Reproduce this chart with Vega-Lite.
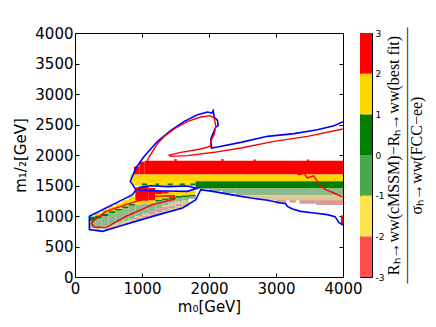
{
  "$schema": "https://vega.github.io/schema/vega-lite/v6.json",
  "padding": {"left": 13, "top": 25, "right": 5, "bottom": 5},
  "background": "white",
  "datasets": {
    "cells": [
      {"x0": 880, "x1": 960, "y0": 1680, "y1": 1810, "c": "r"},
      {"x0": 960, "x1": 1040, "y0": 1680, "y1": 1890, "c": "r"},
      {"x0": 1040, "x1": 4000, "y0": 1680, "y1": 1905, "c": "r"},
      {"x0": 1480, "x1": 1520, "y0": 1905, "y1": 1930, "c": "r"},
      {"x0": 2180, "x1": 2220, "y0": 1905, "y1": 1930, "c": "r"},
      {"x0": 2660, "x1": 2700, "y0": 1905, "y1": 1925, "c": "r"},
      {"x0": 3460, "x1": 3500, "y0": 1905, "y1": 1925, "c": "r"},
      {"x0": 830, "x1": 4000, "y0": 1570, "y1": 1680, "c": "y"},
      {"x0": 840, "x1": 1800, "y0": 1535, "y1": 1570, "c": "y"},
      {"x0": 860, "x1": 1000, "y0": 1500, "y1": 1535, "c": "y"},
      {"x0": 1000, "x1": 1080, "y0": 1500, "y1": 1535, "c": "g"},
      {"x0": 1080, "x1": 1200, "y0": 1500, "y1": 1535, "c": "y"},
      {"x0": 1200, "x1": 1260, "y0": 1500, "y1": 1535, "c": "g"},
      {"x0": 1260, "x1": 1380, "y0": 1500, "y1": 1535, "c": "y"},
      {"x0": 1380, "x1": 1460, "y0": 1500, "y1": 1535, "c": "g"},
      {"x0": 1460, "x1": 1560, "y0": 1500, "y1": 1535, "c": "y"},
      {"x0": 1560, "x1": 1640, "y0": 1500, "y1": 1535, "c": "g"},
      {"x0": 1640, "x1": 1720, "y0": 1500, "y1": 1535, "c": "y"},
      {"x0": 1720, "x1": 1800, "y0": 1500, "y1": 1535, "c": "g"},
      {"x0": 1800, "x1": 4000, "y0": 1450, "y1": 1570, "c": "g"},
      {"x0": 2000, "x1": 2200, "y0": 1410, "y1": 1450, "c": "s"},
      {"x0": 2200, "x1": 2400, "y0": 1370, "y1": 1450, "c": "s"},
      {"x0": 2400, "x1": 4000, "y0": 1340, "y1": 1450, "c": "s"},
      {"x0": 2500, "x1": 2700, "y0": 1300, "y1": 1340, "c": "t"},
      {"x0": 2700, "x1": 4000, "y0": 1260, "y1": 1340, "c": "t"},
      {"x0": 3000, "x1": 3150, "y0": 1200, "y1": 1260, "c": "p"},
      {"x0": 3200, "x1": 3300, "y0": 1220, "y1": 1260, "c": "p"},
      {"x0": 3350, "x1": 3600, "y0": 1200, "y1": 1260, "c": "p"},
      {"x0": 3600, "x1": 4000, "y0": 1180, "y1": 1260, "c": "p"},
      {"x0": 3970, "x1": 4000, "y0": 860, "y1": 1010, "c": "r"},
      {"x0": 220, "x1": 300, "y0": 800, "y1": 920, "c": "s"},
      {"x0": 220, "x1": 300, "y0": 920, "y1": 990, "c": "g"},
      {"x0": 300, "x1": 400, "y0": 770, "y1": 810, "c": "t"},
      {"x0": 300, "x1": 400, "y0": 810, "y1": 960, "c": "s"},
      {"x0": 300, "x1": 400, "y0": 960, "y1": 1010, "c": "g"},
      {"x0": 300, "x1": 400, "y0": 1010, "y1": 1050, "c": "y"},
      {"x0": 400, "x1": 500, "y0": 780, "y1": 830, "c": "t"},
      {"x0": 400, "x1": 500, "y0": 830, "y1": 1000, "c": "s"},
      {"x0": 400, "x1": 500, "y0": 1000, "y1": 1040, "c": "g"},
      {"x0": 400, "x1": 500, "y0": 1040, "y1": 1100, "c": "y"},
      {"x0": 500, "x1": 600, "y0": 800, "y1": 860, "c": "t"},
      {"x0": 500, "x1": 600, "y0": 860, "y1": 1050, "c": "s"},
      {"x0": 500, "x1": 600, "y0": 1050, "y1": 1080, "c": "g"},
      {"x0": 500, "x1": 600, "y0": 1080, "y1": 1160, "c": "y"},
      {"x0": 600, "x1": 700, "y0": 830, "y1": 890, "c": "t"},
      {"x0": 600, "x1": 700, "y0": 890, "y1": 1090, "c": "s"},
      {"x0": 600, "x1": 700, "y0": 1090, "y1": 1120, "c": "g"},
      {"x0": 600, "x1": 700, "y0": 1120, "y1": 1210, "c": "y"},
      {"x0": 700, "x1": 800, "y0": 860, "y1": 920, "c": "t"},
      {"x0": 700, "x1": 800, "y0": 920, "y1": 1130, "c": "s"},
      {"x0": 700, "x1": 800, "y0": 1130, "y1": 1160, "c": "g"},
      {"x0": 700, "x1": 800, "y0": 1160, "y1": 1260, "c": "y"},
      {"x0": 800, "x1": 900, "y0": 890, "y1": 950, "c": "t"},
      {"x0": 800, "x1": 900, "y0": 950, "y1": 1170, "c": "s"},
      {"x0": 800, "x1": 900, "y0": 1170, "y1": 1200, "c": "g"},
      {"x0": 800, "x1": 900, "y0": 1200, "y1": 1320, "c": "y"},
      {"x0": 900, "x1": 1000, "y0": 930, "y1": 970, "c": "p"},
      {"x0": 900, "x1": 1000, "y0": 970, "y1": 1000, "c": "t"},
      {"x0": 900, "x1": 1000, "y0": 1000, "y1": 1190, "c": "s"},
      {"x0": 900, "x1": 1000, "y0": 1190, "y1": 1250, "c": "y"},
      {"x0": 900, "x1": 1000, "y0": 1250, "y1": 1470, "c": "r"},
      {"x0": 1000, "x1": 1100, "y0": 970, "y1": 1010, "c": "p"},
      {"x0": 1000, "x1": 1100, "y0": 1010, "y1": 1040, "c": "t"},
      {"x0": 1000, "x1": 1100, "y0": 1040, "y1": 1200, "c": "s"},
      {"x0": 1000, "x1": 1100, "y0": 1200, "y1": 1250, "c": "y"},
      {"x0": 1000, "x1": 1100, "y0": 1250, "y1": 1480, "c": "r"},
      {"x0": 1100, "x1": 1200, "y0": 990, "y1": 1020, "c": "t"},
      {"x0": 1100, "x1": 1200, "y0": 1020, "y1": 1080, "c": "p"},
      {"x0": 1100, "x1": 1200, "y0": 1080, "y1": 1210, "c": "s"},
      {"x0": 1100, "x1": 1200, "y0": 1210, "y1": 1260, "c": "y"},
      {"x0": 1100, "x1": 1200, "y0": 1260, "y1": 1460, "c": "r"},
      {"x0": 1200, "x1": 1300, "y0": 1020, "y1": 1060, "c": "t"},
      {"x0": 1200, "x1": 1300, "y0": 1060, "y1": 1120, "c": "p"},
      {"x0": 1200, "x1": 1300, "y0": 1120, "y1": 1240, "c": "s"},
      {"x0": 1200, "x1": 1300, "y0": 1240, "y1": 1270, "c": "g"},
      {"x0": 1200, "x1": 1300, "y0": 1270, "y1": 1360, "c": "y"},
      {"x0": 1200, "x1": 1300, "y0": 1360, "y1": 1410, "c": "r"},
      {"x0": 1300, "x1": 1400, "y0": 1050, "y1": 1090, "c": "t"},
      {"x0": 1300, "x1": 1400, "y0": 1090, "y1": 1150, "c": "p"},
      {"x0": 1300, "x1": 1400, "y0": 1150, "y1": 1180, "c": "t"},
      {"x0": 1300, "x1": 1400, "y0": 1180, "y1": 1260, "c": "s"},
      {"x0": 1300, "x1": 1400, "y0": 1260, "y1": 1290, "c": "g"},
      {"x0": 1300, "x1": 1400, "y0": 1290, "y1": 1370, "c": "y"},
      {"x0": 1300, "x1": 1400, "y0": 1370, "y1": 1405, "c": "r"},
      {"x0": 1400, "x1": 1500, "y0": 1080, "y1": 1130, "c": "t"},
      {"x0": 1400, "x1": 1500, "y0": 1130, "y1": 1170, "c": "p"},
      {"x0": 1400, "x1": 1500, "y0": 1170, "y1": 1220, "c": "t"},
      {"x0": 1400, "x1": 1500, "y0": 1220, "y1": 1280, "c": "s"},
      {"x0": 1400, "x1": 1500, "y0": 1280, "y1": 1310, "c": "g"},
      {"x0": 1400, "x1": 1500, "y0": 1310, "y1": 1400, "c": "y"},
      {"x0": 1500, "x1": 1600, "y0": 1110, "y1": 1160, "c": "t"},
      {"x0": 1500, "x1": 1600, "y0": 1160, "y1": 1200, "c": "p"},
      {"x0": 1500, "x1": 1600, "y0": 1200, "y1": 1240, "c": "t"},
      {"x0": 1500, "x1": 1600, "y0": 1240, "y1": 1300, "c": "s"},
      {"x0": 1500, "x1": 1600, "y0": 1300, "y1": 1330, "c": "g"},
      {"x0": 1500, "x1": 1600, "y0": 1330, "y1": 1400, "c": "y"},
      {"x0": 1600, "x1": 1700, "y0": 1150, "y1": 1260, "c": "t"},
      {"x0": 1600, "x1": 1700, "y0": 1260, "y1": 1310, "c": "s"},
      {"x0": 1600, "x1": 1700, "y0": 1310, "y1": 1340, "c": "g"},
      {"x0": 1600, "x1": 1700, "y0": 1340, "y1": 1400, "c": "y"},
      {"x0": 1700, "x1": 1800, "y0": 1280, "y1": 1320, "c": "s"},
      {"x0": 1700, "x1": 1800, "y0": 1320, "y1": 1350, "c": "g"},
      {"x0": 1700, "x1": 1800, "y0": 1350, "y1": 1420, "c": "y"}
    ],
    "blue": [
      {"p": "b1", "i": 1, "x": 4000, "y": 852},
      {"p": "b1", "i": 2, "x": 3940, "y": 891},
      {"p": "b1", "i": 3, "x": 3881, "y": 989},
      {"p": "b1", "i": 4, "x": 3766, "y": 1022},
      {"p": "b1", "i": 5, "x": 3568, "y": 1049},
      {"p": "b1", "i": 6, "x": 3369, "y": 1076},
      {"p": "b1", "i": 7, "x": 3245, "y": 1115},
      {"p": "b1", "i": 8, "x": 3170, "y": 1158},
      {"p": "b1", "i": 9, "x": 3145, "y": 1202},
      {"p": "b1", "i": 10, "x": 3071, "y": 1213},
      {"p": "b1", "i": 11, "x": 2872, "y": 1257},
      {"p": "b1", "i": 12, "x": 2624, "y": 1295},
      {"p": "b1", "i": 13, "x": 2325, "y": 1350},
      {"p": "b1", "i": 14, "x": 2077, "y": 1399},
      {"p": "b1", "i": 15, "x": 1878, "y": 1432},
      {"p": "b1", "i": 16, "x": 1853, "y": 1377},
      {"p": "b1", "i": 17, "x": 1804, "y": 1268},
      {"p": "b1", "i": 18, "x": 1605, "y": 1131},
      {"p": "b1", "i": 19, "x": 1158, "y": 994},
      {"p": "b1", "i": 20, "x": 661, "y": 831},
      {"p": "b1", "i": 21, "x": 412, "y": 749},
      {"p": "b1", "i": 22, "x": 214, "y": 776},
      {"p": "b1", "i": 23, "x": 214, "y": 994},
      {"p": "b1", "i": 24, "x": 462, "y": 1131},
      {"p": "b1", "i": 25, "x": 711, "y": 1268},
      {"p": "b1", "i": 26, "x": 860, "y": 1350},
      {"p": "b1", "i": 27, "x": 909, "y": 1432},
      {"p": "b1", "i": 28, "x": 860, "y": 1514},
      {"p": "b1", "i": 29, "x": 825, "y": 1568},
      {"p": "b1", "i": 30, "x": 835, "y": 1595},
      {"p": "b1", "i": 31, "x": 909, "y": 1787},
      {"p": "b1", "i": 32, "x": 1034, "y": 1978},
      {"p": "b1", "i": 33, "x": 1232, "y": 2224},
      {"p": "b1", "i": 34, "x": 1431, "y": 2404},
      {"p": "b1", "i": 35, "x": 1630, "y": 2552},
      {"p": "b1", "i": 36, "x": 1829, "y": 2661},
      {"p": "b1", "i": 37, "x": 1978, "y": 2705},
      {"p": "b1", "i": 38, "x": 2042, "y": 2688},
      {"p": "b1", "i": 39, "x": 2062, "y": 2727},
      {"p": "b1", "i": 40, "x": 2077, "y": 2623},
      {"p": "b1", "i": 41, "x": 2127, "y": 2568},
      {"p": "b1", "i": 42, "x": 2137, "y": 2481},
      {"p": "b1", "i": 43, "x": 2102, "y": 2459},
      {"p": "b1", "i": 44, "x": 2067, "y": 2371},
      {"p": "b1", "i": 45, "x": 2027, "y": 2262},
      {"p": "b1", "i": 46, "x": 2037, "y": 2115},
      {"p": "b1", "i": 47, "x": 2127, "y": 2131},
      {"p": "b1", "i": 48, "x": 2475, "y": 2207},
      {"p": "b1", "i": 49, "x": 2872, "y": 2306},
      {"p": "b1", "i": 50, "x": 3270, "y": 2350},
      {"p": "b1", "i": 51, "x": 3617, "y": 2415},
      {"p": "b1", "i": 52, "x": 3866, "y": 2481},
      {"p": "b1", "i": 53, "x": 4000, "y": 2546},
      {"p": "b2", "i": 1, "x": 959, "y": 1470},
      {"p": "b2", "i": 2, "x": 1133, "y": 1497},
      {"p": "b2", "i": 3, "x": 1381, "y": 1481},
      {"p": "b2", "i": 4, "x": 1680, "y": 1492},
      {"p": "b2", "i": 5, "x": 1819, "y": 1453},
      {"p": "b2", "i": 6, "x": 1680, "y": 1404},
      {"p": "b2", "i": 7, "x": 1381, "y": 1410},
      {"p": "b2", "i": 8, "x": 1133, "y": 1415},
      {"p": "b2", "i": 9, "x": 959, "y": 1421},
      {"p": "b2", "i": 10, "x": 959, "y": 1470}
    ],
    "red": [
      {"p": "r1", "i": 1, "x": 4000, "y": 2426},
      {"p": "r1", "i": 2, "x": 3468, "y": 2306},
      {"p": "r1", "i": 3, "x": 2971, "y": 2224},
      {"p": "r1", "i": 4, "x": 2475, "y": 2115},
      {"p": "r1", "i": 5, "x": 2077, "y": 2044},
      {"p": "r1", "i": 6, "x": 1680, "y": 1989},
      {"p": "r1", "i": 7, "x": 1431, "y": 1978},
      {"p": "r1", "i": 8, "x": 1406, "y": 2000},
      {"p": "r1", "i": 9, "x": 1580, "y": 2044},
      {"p": "r1", "i": 10, "x": 1878, "y": 2098},
      {"p": "r1", "i": 11, "x": 2017, "y": 2142},
      {"p": "r1", "i": 12, "x": 2037, "y": 2251},
      {"p": "r1", "i": 13, "x": 2077, "y": 2333},
      {"p": "r1", "i": 14, "x": 2102, "y": 2470},
      {"p": "r1", "i": 15, "x": 2077, "y": 2606},
      {"p": "r1", "i": 16, "x": 2017, "y": 2645},
      {"p": "r1", "i": 17, "x": 1878, "y": 2623},
      {"p": "r1", "i": 18, "x": 1680, "y": 2552},
      {"p": "r1", "i": 19, "x": 1481, "y": 2426},
      {"p": "r1", "i": 20, "x": 1332, "y": 2306},
      {"p": "r1", "i": 21, "x": 1232, "y": 2186},
      {"p": "r1", "i": 22, "x": 1158, "y": 2060},
      {"p": "r1", "i": 23, "x": 1083, "y": 1923},
      {"p": "r1", "i": 24, "x": 1083, "y": 1869},
      {"p": "r1", "i": 25, "x": 1878, "y": 1841},
      {"p": "r1", "i": 26, "x": 3270, "y": 1748},
      {"p": "r1", "i": 27, "x": 3344, "y": 1677},
      {"p": "r1", "i": 28, "x": 3420, "y": 1700},
      {"p": "r1", "i": 29, "x": 3468, "y": 1623},
      {"p": "r1", "i": 30, "x": 3560, "y": 1660},
      {"p": "r1", "i": 31, "x": 3617, "y": 1568},
      {"p": "r1", "i": 32, "x": 3667, "y": 1486},
      {"p": "r1", "i": 33, "x": 3742, "y": 1432},
      {"p": "r1", "i": 34, "x": 3866, "y": 1377},
      {"p": "r1", "i": 35, "x": 4000, "y": 1311},
      {"p": "r2", "i": 1, "x": 263, "y": 912},
      {"p": "r2", "i": 2, "x": 462, "y": 1076},
      {"p": "r2", "i": 3, "x": 760, "y": 1186},
      {"p": "r2", "i": 4, "x": 1158, "y": 1322},
      {"p": "r2", "i": 5, "x": 1481, "y": 1333},
      {"p": "r2", "i": 6, "x": 1491, "y": 1279},
      {"p": "r2", "i": 7, "x": 1158, "y": 1186},
      {"p": "r2", "i": 8, "x": 760, "y": 994},
      {"p": "r2", "i": 9, "x": 462, "y": 809},
      {"p": "r2", "i": 10, "x": 288, "y": 820},
      {"p": "r2", "i": 11, "x": 248, "y": 874},
      {"p": "r2", "i": 12, "x": 263, "y": 912}
    ],
    "bar": [
      {"lo": -3, "hi": -2, "k": "m3"},
      {"lo": -2, "hi": -1, "k": "m2"},
      {"lo": -1, "hi": 0, "k": "m1"},
      {"lo": 0, "hi": 1, "k": "p1"},
      {"lo": 1, "hi": 2, "k": "p2"},
      {"lo": 2, "hi": 3, "k": "p3"}
    ]
  },
  "hconcat": [
    {
      "width": 268,
      "height": 244,
      "layer": [
        {
          "data": {"name": "cells"},
          "mark": {"type": "rect"},
          "encoding": {
            "x": {"field": "x0", "type": "quantitative", "scale": {"domain": [0, 4000], "nice": false, "zero": false},
                  "axis": {"orient": "bottom", "values": [0, 1000, 2000, 3000, 4000], "format": "d", "tickSize": -4, "labelPadding": 8, "title": "m₀[GeV]", "titlePadding": 3}},
            "x2": {"field": "x1"},
            "y": {"field": "y0", "type": "quantitative", "scale": {"domain": [0, 4000], "nice": false, "zero": false},
                  "axis": {"orient": "left", "values": [0, 500, 1000, 1500, 2000, 2500, 3000, 3500, 4000], "format": "d", "tickSize": -4, "labelPadding": 6, "title": "m₁/₂[GeV]", "titlePadding": 6}},
            "y2": {"field": "y1"},
            "color": {"field": "c", "type": "nominal", "legend": null,
                      "scale": {"domain": ["r", "y", "g", "s", "t", "p"], "range": ["#FF0000", "#FFD700", "#007F00", "#8DB98D", "#DBCB8E", "#DB9A9A"]}}
          }
        },
        {
          "data": {"name": "blue"},
          "mark": {"type": "line", "color": "#0000FF", "strokeWidth": 1.6},
          "encoding": {
            "x": {"field": "x", "type": "quantitative", "axis": {"orient": "top", "labels": false, "tickSize": -4, "values": [0, 1000, 2000, 3000, 4000], "title": null}},
            "y": {"field": "y", "type": "quantitative", "axis": {"orient": "right", "labels": false, "tickSize": -4, "values": [0, 500, 1000, 1500, 2000, 2500, 3000, 3500, 4000], "title": null}},
            "detail": {"field": "p"},
            "order": {"field": "i"}
          }
        },
        {
          "data": {"name": "red"},
          "mark": {"type": "line", "color": "#FF0000", "strokeWidth": 1.4},
          "encoding": {
            "x": {"field": "x", "type": "quantitative", "axis": null},
            "y": {"field": "y", "type": "quantitative", "axis": null},
            "detail": {"field": "p"},
            "order": {"field": "i"}
          }
        }
      ],
      "resolve": {"axis": {"x": "independent", "y": "independent"}}
    },
    {
      "width": 12,
      "height": 244,
      "data": {"name": "bar"},
      "mark": {"type": "rect"},
      "encoding": {
        "y": {"field": "lo", "type": "quantitative", "scale": {"domain": [-3, 3], "nice": false, "zero": false},
              "axis": {"orient": "right", "values": [-3, -2, -1, 0, 1, 2, 3], "ticks": false, "labelFontSize": 9, "labelPadding": 3,
                       "labelExpr": "'' + datum.value",
                       "title": ["Rₕ→ww(cMSSM)−Rₕ→ww(best fit)", "————————————————", "σₕ→ww(FCC−ee)"],
                       "titleFont": "Liberation Serif", "titleFontSize": 16, "titleAngle": 270, "titleLineHeight": 11.5, "titlePadding": -5}},
        "y2": {"field": "hi"},
        "color": {"field": "k", "type": "nominal", "legend": null,
                  "scale": {"domain": ["m3", "m2", "m1", "p1", "p2", "p3"], "range": ["#FF4C4C", "#FFE34C", "#4CA64C", "#007F00", "#FFD700", "#FF0000"]}}
      }
    }
  ],
  "spacing": 17,
  "bounds": "flush",
  "resolve": {"scale": {"color": "independent"}},
  "config": {
    "font": "DejaVu Sans",
    "view": {"stroke": "black", "strokeWidth": 1},
    "axis": {"labelColor": "black", "labelFontSize": 15, "labelFont": "DejaVu Sans", "titleColor": "black", "titleFontWeight": "normal", "titleFontSize": 15, "titleFont": "DejaVu Sans", "grid": false, "domain": false, "tickColor": "black", "labelFlush": false, "labelOverlap": false, "labelBound": false}
  }
}
